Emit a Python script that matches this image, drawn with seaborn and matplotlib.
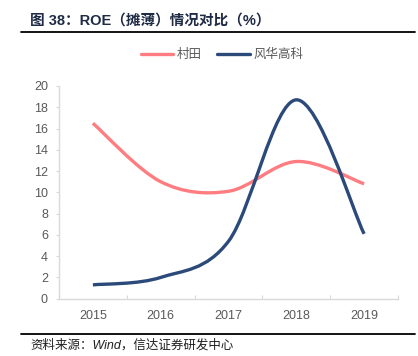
import numpy as np
import matplotlib
matplotlib.use('Agg')
import matplotlib.pyplot as plt
from matplotlib.path import Path
from matplotlib.patches import PathPatch
from matplotlib.lines import Line2D
import seaborn as sns

# data
years = ['2015', '2016', '2017', '2018', '2019']
murata = [16.5, 11.0, 10.1, 12.9, 10.8]
fenghua = [1.3, 2.0, 5.4, 18.7, 6.1]
series_names = ['村田', '风华高科']
colors = ['#FF7C80', '#2B4A7A']

sns.set_theme(style='white')
plt.rcParams['font.family'] = ['Liberation Sans', 'Noto Sans CJK SC']
plt.rcParams['axes.unicode_minus'] = False


def smooth_path(xs, ys):
    # excel-like smoothed line: bezier segments through the data points
    pts = np.column_stack([xs, ys]).astype(float)
    n = len(pts)
    verts = [pts[0]]
    codes = [Path.MOVETO]
    for i in range(n - 1):
        p0 = pts[i - 1] if i > 0 else pts[i]
        p1 = pts[i]
        p2 = pts[i + 1]
        p3 = pts[i + 2] if i + 2 < n else pts[i + 1]
        c1 = p1 + (p2 - p0) / 6
        c2 = p2 - (p3 - p1) / 6
        verts += [c1, c2, p2]
        codes += [Path.CURVE4] * 3
    return Path(verts, codes)


fig = plt.figure(figsize=(4.18, 3.56), dpi=100)
ax = fig.add_axes([59 / 418, 1 - 298.7 / 356, (398 - 59) / 418, (298.7 - 86) / 356])

x = np.arange(len(years))
for vals, c in zip([murata, fenghua], colors):
    patch = PathPatch(smooth_path(x, vals), facecolor='none', edgecolor=c,
                      lw=2.4, capstyle='butt', joinstyle='round')
    ax.add_patch(patch)

ax.set_xlim(-0.5, len(years) - 0.5)
ax.set_ylim(0, 20)
ax.set_yticks(range(0, 21, 2))
ax.set_xticks(x)
ax.set_xticklabels(years)
ax.set_xticks(np.arange(-0.5, len(years), 1.0), minor=True)

sns.despine(ax=ax)
for s in ['left', 'bottom']:
    ax.spines[s].set_color('#D9D9D9')
    ax.spines[s].set_linewidth(1.0)

ax.tick_params(axis='y', which='major', left=True, length=2, width=0.8,
               color='#D9D9D9', labelsize=9, labelcolor='#595959', pad=6)
ax.tick_params(axis='x', which='major', length=0, labelsize=9,
               labelcolor='#595959', pad=8)
ax.tick_params(axis='x', which='minor', bottom=True, direction='in',
               length=3, width=0.8, color='#D9D9D9')
ax.grid(False)

handles = [Line2D([], [], color=c, lw=2.4) for c in colors]
fig.legend(handles, series_names, loc='center', bbox_to_anchor=(222 / 418, 1 - 55 / 356),
           ncol=2, frameon=False, fontsize=9, handlelength=2.6, handletextpad=0.3,
           columnspacing=1.2, labelcolor='#595959')

fig.text(30 / 418, 1 - 21 / 356, '图 38：ROE（摊薄）情况对比（%）', fontsize=10.5,
         fontweight='bold', color='#1F2A44', va='center', ha='left')
fig.add_artist(Line2D([21 / 418, 415 / 418], [1 - 32 / 356, 1 - 32 / 356],
                      color='black', lw=1.3, transform=fig.transFigure))
fig.add_artist(Line2D([21 / 418, 415 / 418], [1 - 334 / 356, 1 - 334 / 356],
                      color='black', lw=1.3, transform=fig.transFigure))
fig.text(30 / 418, 1 - 345 / 356, '资料来源：Wind，信达证券研发中心', fontsize=9,
         style='italic', color='#1F1F1F', va='center', ha='left')

fig.savefig('out.png', dpi=100)
